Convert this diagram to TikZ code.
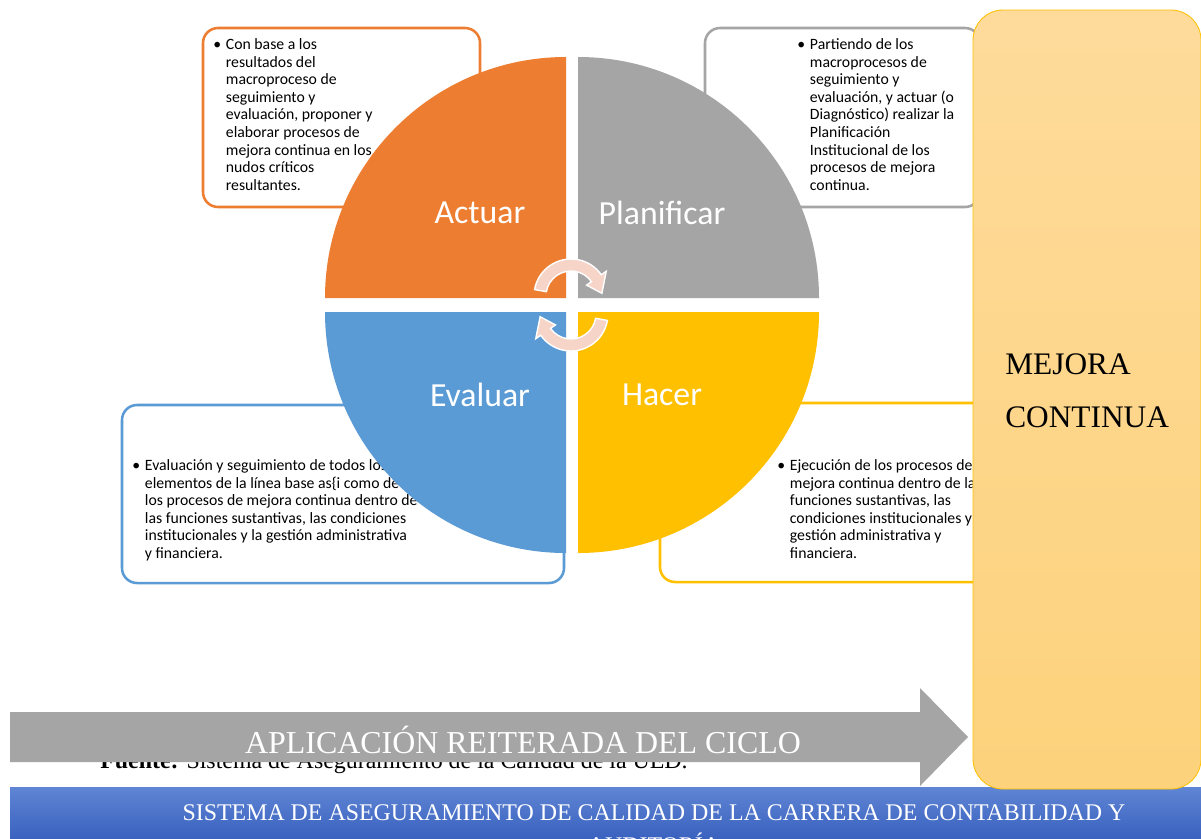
\documentclass[tikz,border=0pt]{standalone}
\usepackage{fontspec}
\setmainfont{Liberation Serif}
\newfontfamily\calibri{Carlito}

\definecolor{actuar}{HTML}{ED7D31}
\definecolor{planificar}{HTML}{A5A5A5}
\definecolor{evaluar}{HTML}{5B9BD5}
\definecolor{hacer}{HTML}{FFC000}
\definecolor{cyclearrow}{HTML}{F7D4C8}
\definecolor{mejoratop}{HTML}{FEDB9B}
\definecolor{mejorabot}{HTML}{FDD27C}
\definecolor{bannertop}{HTML}{5F85D4}
\definecolor{bannerbot}{HTML}{3A62BF}

\begin{document}
\begin{tikzpicture}
  [
    x = 0.25mm, y = -0.25mm,
    info box/.style = {draw=#1, line width=1.8pt, rounded corners=3.75mm, fill=white},
    info text/.style = {anchor=north west, inner sep=0, align=left, font=\calibri\fontsize{11.2}{12.5}\selectfont},
    quadrant label/.style = {text=white, inner sep=0, font=\calibri\fontsize{24}{28}\selectfont},
    cycle arrow/.style = {fill=cyclearrow, draw=white, line width=1pt},
    serif label/.style = {inner sep=0, text=white},
  ]

  \useasboundingbox (0,0) rectangle (1201,838);
  \clip (0,0) rectangle (1201,838);
  \fill[white] (0,0) rectangle (1201,838);

  \draw[info box=actuar]     (203,28)  rectangle (480,207);
  \draw[info box=planificar] (705,28)  rectangle (980,207);
  \draw[info box=evaluar]    (122,405) rectangle (564,583);
  \draw[info box=hacer]      (660,403) rectangle (1010,582);

  \node[info text] (actuar text) at (213,37)
    {\begin{tabular}{@{}l@{}l@{}}
      \makebox[9pt][l]{\textbullet} & Con base a los\\
      & resultados del\\
      & macroproceso de\\
      & seguimiento y\\
      & evaluación, proponer y\\
      & elaborar procesos de\\
      & mejora continua en los\\
      & nudos críticos\\
      & resultantes.
    \end{tabular}};
  \node[info text] (planificar text) at (797,37)
    {\begin{tabular}{@{}l@{}l@{}}
      \makebox[9pt][l]{\textbullet} & Partiendo de los\\
      & macroprocesos de\\
      & seguimiento y\\
      & evaluación, y actuar (o\\
      & Diagnóstico) realizar la\\
      & Planificación\\
      & Institucional de los\\
      & procesos de mejora\\
      & continua.
    \end{tabular}};
  \node[info text] (evaluar text) at (132,458)
    {\begin{tabular}{@{}l@{}l@{}}
      \makebox[9pt][l]{\textbullet} & Evaluación y seguimiento de todos los\\
      & elementos de la línea base as\{i como de\\
      & los procesos de mejora continua dentro de\\
      & las funciones sustantivas, las condiciones\\
      & institucionales y la gestión administrativa\\
      & y financiera.
    \end{tabular}};
  \node[info text] (hacer text) at (777,458)
    {\begin{tabular}{@{}l@{}l@{}}
      \makebox[9pt][l]{\textbullet} & Ejecución de los procesos de\\
      & mejora continua dentro de las\\
      & funciones sustantivas, las\\
      & condiciones institucionales y la\\
      & gestión administrativa y\\
      & financiera.
    \end{tabular}};

  \fill[actuar]     (566,298) -- ++(-241,0) arc[start angle=180, end angle=270, radius=241] -- cycle;
  \fill[planificar] (578,298) -- ++(0,-241) arc[start angle=270, end angle=360, radius=241] -- cycle;
  \fill[hacer]      (578,312) -- ++(241,0)  arc[start angle=0,   end angle=90,  radius=241] -- cycle;
  \fill[evaluar]    (566,312) -- ++(0,241)  arc[start angle=90,  end angle=180, radius=241] -- cycle;

  \node[quadrant label] (actuar)     at (480,213) {Actuar};
  \node[quadrant label] (planificar) at (662,213) {Planificar};
  \node[quadrant label] (evaluar)    at (480,395) {Evaluar};
  \node[quadrant label] (hacer)      at (662,395) {Hacer};

  \begin{scope}[shift={(571,296)}]
    \draw[cycle arrow] (190:37) arc[start angle=190, end angle=325, radius=37] -- (325:43) -- (355:31)
      -- (325:19) -- (325:25) arc[start angle=325, end angle=190, radius=25] -- cycle;
  \end{scope}
  \begin{scope}[shift={(571,314)}]
    \draw[cycle arrow] (10:37) arc[start angle=10, end angle=145, radius=37] -- (145:43) -- (175:31)
      -- (145:19) -- (145:25) arc[start angle=145, end angle=10, radius=25] -- cycle;
  \end{scope}

  \node[anchor=base west, inner sep=0, font=\fontsize{17}{20}\selectfont] (fuente) at (100,768)
    {\textbf{Fuente:} Sistema de Aseguramiento de la Calidad de la UED.};

  \fill[planificar] (10,712) -- (920,712) -- (920,688) -- (968,737) -- (920,786) -- (920,762) -- (10,762) -- cycle;
  \node[serif label, anchor=base, font=\fontsize{22.7}{27}\selectfont] (ciclo) at (523,753) {APLICACIÓN REITERADA DEL CICLO};

  \shade[top color=bannertop, bottom color=bannerbot] (10,787) rectangle (1201,838);
  \node[serif label, anchor=north, align=center, font=\fontsize{17}{23.5}\selectfont] (sistema) at (654,804)
    {SISTEMA DE ASEGURAMIENTO DE CALIDAD DE LA CARRERA DE CONTABILIDAD Y\\ AUDITORÍA};

  \shade[top color=mejoratop, bottom color=mejorabot, draw=hacer, line width=0.6pt, rounded corners=7.5mm]
    (973,10) rectangle (1201,789);
  \node[inner sep=0, anchor=west, align=left, font=\fontsize{22.3}{37.6}\selectfont] (mejora) at (1005,391)
    {MEJORA\\ CONTINUA};

\end{tikzpicture}
\end{document}
